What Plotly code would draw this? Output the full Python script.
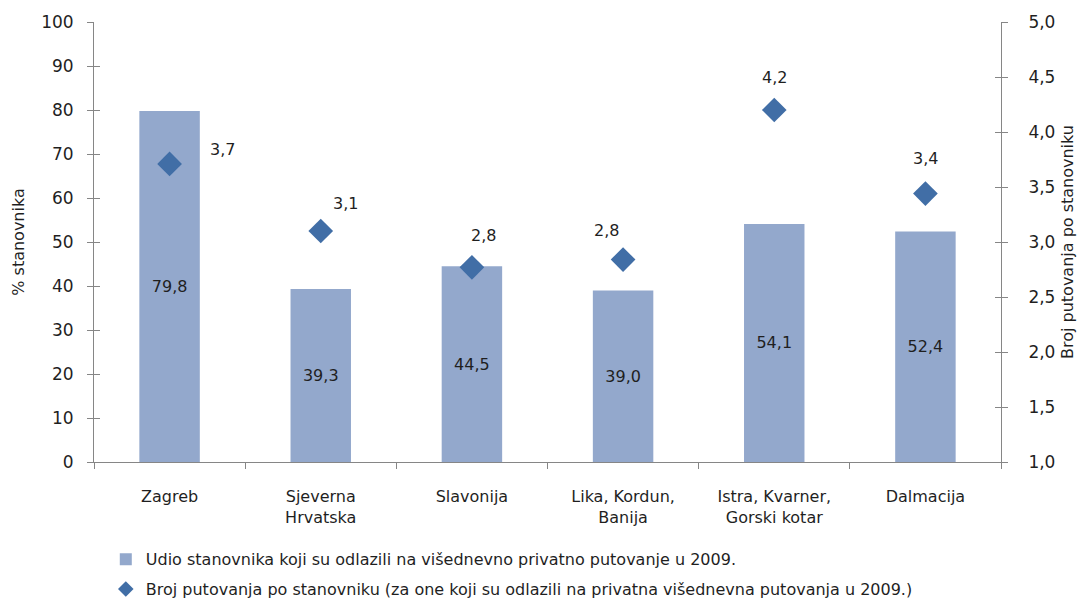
import plotly.graph_objects as go

categories = ["Zagreb", "Sjeverna<br>Hrvatska", "Slavonija", "Lika, Kordun,<br>Banija",
              "Istra, Kvarner,<br>Gorski kotar", "Dalmacija"]
share_pct = [79.8, 39.3, 44.5, 39.0, 54.1, 52.4]
trips_per_person = [3.71, 3.10, 2.77, 2.84, 4.20, 3.44]

left_ticks = list(range(0, 101, 10))
right_ticks = [1.0, 1.5, 2.0, 2.5, 3.0, 3.5, 4.0, 4.5, 5.0]

# label offsets (pixels) for diamond labels
label_dx = [53, 25, 12, -17, 0, 0]
label_dy = [14, 28, 32, 29, 33, 35]

FONT = "DejaVu Sans"
TXT = "#1f1f1f"
AX = "#868686"
BAR = "#93A8CC"
DIA = "#416EA6"
FS = 16

fig = go.Figure()
fig.add_trace(go.Bar(
    x=categories, y=share_pct, width=0.4,
    marker=dict(color=BAR, line=dict(width=0)),
    texttemplate="%{y:.1f}", textposition="inside", insidetextanchor="middle",
    textangle=0, constraintext="none",
    insidetextfont=dict(family=FONT, size=FS, color=TXT),
    name="Udio stanovnika koji su odlazili na višednevno privatno putovanje u 2009.",
    legendgroup="a", yaxis="y",
))
fig.add_trace(go.Scatter(
    x=categories, y=trips_per_person, mode="markers",
    marker=dict(symbol="diamond", size=19, color=DIA),
    name="Broj putovanja po stanovniku (za one koji su odlazili na privatna višednevna putovanja u 2009.)",
    legendgroup="b", yaxis="y2",
))

for c, v, dx, dy in zip(categories, trips_per_person, label_dx, label_dy):
    fig.add_annotation(x=c, y=v, xref="x", yref="y2", text=f"{v:.1f}".replace(".", ","),
                       showarrow=False, xshift=dx, yshift=dy,
                       font=dict(family=FONT, size=FS, color=TXT))

common = dict(showgrid=False, zeroline=False, showline=True, linecolor=AX, linewidth=1,
              tickcolor=AX, ticklen=6, tickwidth=1, automargin=False)

fig.update_layout(
    width=1087, height=601,
    margin=dict(l=86, r=94, t=14, b=147),
    paper_bgcolor="white", plot_bgcolor="white",
    separators=", ",
    font=dict(family=FONT, size=FS, color=TXT),
    bargap=0.6,
    xaxis=dict(**common, ticks="outside", tickson="boundaries", ticklabelstandoff=20,
               tickfont=dict(family=FONT, size=FS, color=TXT)),
    yaxis=dict(**common, range=[0, 100], tickvals=left_ticks, ticks="outside", ticklabelstandoff=10,
               title=dict(text="% stanovnika", font=dict(family=FONT, size=FS, color=TXT), standoff=12),
               tickfont=dict(family=FONT, size=FS + 1, color=TXT)),
    yaxis2=dict(**common, range=[1, 5], tickvals=right_ticks, tickformat=".1f", ticks="outside",
                ticklabelstandoff=17, overlaying="y", side="right",
                title=dict(text="Broj putovanja po stanovniku", font=dict(family=FONT, size=FS, color=TXT), standoff=7),
                tickfont=dict(family=FONT, size=FS + 1, color=TXT)),
    yaxis3=dict(**common, range=[0, 100], tickvals=left_ticks, ticks="inside", showticklabels=False,
                overlaying="y", side="left"),
    yaxis4=dict(**common, range=[1, 5], tickvals=right_ticks, ticks="inside", showticklabels=False,
                overlaying="y", side="right"),
    showlegend=True,
    legend=dict(orientation="v", x=0.013, xref="paper", xanchor="left",
                y=0.111, yref="container", yanchor="top",
                font=dict(family=FONT, size=FS, color=TXT), itemsizing="constant",
                tracegroupgap=6, itemwidth=30, bgcolor="rgba(0,0,0,0)"),
)
# dummy traces to activate the inside-tick overlay axes
fig.add_trace(go.Scatter(x=[categories[0]], y=[None], yaxis="y3", showlegend=False, hoverinfo="skip"))
fig.add_trace(go.Scatter(x=[categories[0]], y=[None], yaxis="y4", showlegend=False, hoverinfo="skip"))

fig.write_html("out.html")
